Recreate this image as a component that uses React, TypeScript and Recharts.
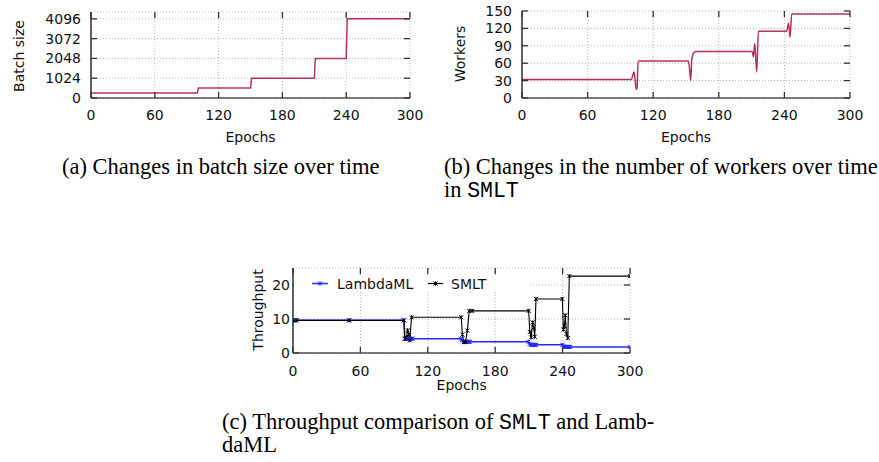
import React from 'react';
import { LineChart, Line, XAxis, YAxis, CartesianGrid, Legend } from 'recharts';

// ---------- data ----------
const epochTicks = [0, 60, 120, 180, 240, 300];

// (a) batch size
const batchEpochs = [0, 100, 101, 150, 151, 210, 211, 240, 241, 300];
const batchSizes = [256, 256, 512, 512, 1024, 1024, 2048, 2048, 4096, 4096];
const batchTicks = [0, 1024, 2048, 3072, 4096];

// (b) workers
const workerEpochs = [0, 100, 101.2, 102.4, 103.2, 104.4, 105.2, 106.2, 152, 153.3, 154.3, 155.2, 156.2, 157.2, 158.5, 210.5, 211.6, 212.9, 213.8, 214.7, 216.2, 242.2, 243.7, 244.5, 245.2, 246.7, 300];
const workerCounts = [32, 32, 38, 45, 36, 15, 17, 64, 64, 50, 30, 64, 74, 78, 80, 80, 71, 94, 68, 45, 115, 115, 129, 118, 105, 145, 145];
const workerTicks = [0, 30, 60, 90, 120, 150];

// (c) throughput
const lambdaEpochs = [0, 2, 50, 98.7, 99.5, 100.5, 101.5, 102.5, 103.5, 104.5, 105.5, 106.5, 149.5, 150.5, 151.5, 152.5, 153.5, 154.5, 155.5, 156.5, 157.5, 209.5, 210.5, 211.5, 212.5, 213.5, 214.5, 215.5, 216.5, 239.8, 240.8, 241.8, 242.8, 243.8, 244.8, 245.8, 246.8, 300];
const lambdaThroughput = [9.6, 9.6, 9.6, 9.6, 4.2, 4.2, 4.1, 4.2, 4.1, 4.2, 4.2, 4.2, 4.2, 3.8, 3.4, 3.3, 3.3, 3.2, 3.3, 3.3, 3.3, 3.3, 2.7, 2.4, 2.4, 2.4, 2.4, 2.4, 2.4, 2.4, 2.0, 1.8, 1.8, 1.8, 1.8, 1.8, 1.8, 1.8];
const smltEpochs = [0, 3, 50, 98.7, 99.6, 101, 102, 103, 104, 105.5, 149.8, 150.8, 152.2, 153.6, 155.2, 156.9, 159.5, 209.8, 210.8, 212, 213.3, 214.2, 215.2, 216.3, 239.8, 240.7, 241.6, 242.4, 243.4, 244.6, 246, 300];
const smltThroughput = [9.6, 9.6, 9.6, 9.6, 4.2, 4.5, 6.7, 5.5, 3.7, 10.5, 10.5, 5.4, 3.2, 3.3, 6.6, 12.4, 12.4, 12.4, 6.2, 4.6, 9.0, 7.5, 4.8, 15.9, 15.9, 6.9, 8.0, 11.1, 5.6, 4.4, 22.6, 22.6];
const throughputTicks = [0, 10, 20];

const seriesNames = ['LambdaML', 'SMLT'];

const zip = (xs: number[], ys: number[]) => xs.map((e, i) => ({ e, v: ys[i] }));
const batchData = zip(batchEpochs, batchSizes);
const workerData = zip(workerEpochs, workerCounts);
const lambdaData = zip(lambdaEpochs, lambdaThroughput);
const smltData = zip(smltEpochs, smltThroughput);

// ---------- styles ----------
const FONT = "'DejaVu Sans', sans-serif";
const SERIF = "'Liberation Serif', 'Times New Roman', serif";
const MONO = "'Liberation Mono', monospace";
const AX = '#000';
const TICK = '#333';
const CRIMSON = '#b3345a';
const BLUE = '#2828ff';
const BLACK = '#000';

function xTick(plotH: number, gap: number) {
  return (p: any) => {
    const { x, y, payload } = p;
    const b = y - gap;
    const t = b - plotH;
    return (
      <g>
        <line x1={x} x2={x} y1={b} y2={b - 6} stroke={TICK} strokeWidth={1.3} />
        <line x1={x} x2={x} y1={t} y2={t + 6} stroke={TICK} strokeWidth={1.3} />
        <text x={x} y={y} dy="0.72em" textAnchor="middle" fontFamily={FONT} fontSize={14} fill="#111">
          {payload.value}
        </text>
      </g>
    );
  };
}

function yTick(plotW: number, gap: number) {
  return (p: any) => {
    const { x, y, payload } = p;
    const l = x + gap;
    const r = l + plotW;
    return (
      <g>
        <line x1={l} x2={l + 6} y1={y} y2={y} stroke={TICK} strokeWidth={1.3} />
        <line x1={r} x2={r - 6} y1={y} y2={y} stroke={TICK} strokeWidth={1.3} />
        <text x={x} y={y} dy="0.36em" textAnchor="end" fontFamily={FONT} fontSize={14} fill="#111">
          {payload.value}
        </text>
      </g>
    );
  };
}

function starDot(color: string) {
  return (p: any) => {
    const { cx, cy, index } = p;
    if (cx == null || cy == null) return <g key={`d${index}`} />;
    const r = 2;
    return (
      <g key={`d${index}`}>
        <line x1={cx - r} x2={cx + r} y1={cy - r} y2={cy + r} stroke={color} strokeWidth={1} />
        <line x1={cx - r} x2={cx + r} y1={cy + r} y2={cy - r} stroke={color} strokeWidth={1} />
        <line x1={cx} x2={cx} y1={cy - r} y2={cy + r} stroke={color} strokeWidth={1} />
      </g>
    );
  };
}

type PanelProps = {
  left: number; top: number; width: number; height: number;
  pl: number; pt: number; pr: number; pb: number;
  yDomain: [number, number]; yTicks: number[];
  xGap: number; yGap: number;
  children?: React.ReactNode;
};

function Panel(props: PanelProps) {
  const { left, top, width, height, pl, pt, pr, pb, yDomain, yTicks, xGap, yGap, children } = props;
  const plotW = pr - pl;
  const plotH = pb - pt;
  const axisLine = { stroke: AX, strokeWidth: 1.2 };
  return (
    <div style={{ position: 'absolute', left, top, width, height }}>
      <LineChart width={width} height={height} margin={{ top: pt, right: width - pr, bottom: 0, left: 0 }}>
        <CartesianGrid stroke="#b4b4b4" strokeDasharray="1 2" />
        <XAxis dataKey="e" type="number" domain={[0, 300]} ticks={epochTicks} interval={0}
          height={height - pb} tickSize={0} tickMargin={xGap} tickLine={false}
          axisLine={axisLine} tick={xTick(plotH, xGap)} allowDataOverflow />
        <XAxis xAxisId="top" orientation="top" dataKey="e" type="number" domain={[0, 300]}
          height={0} tick={false} tickLine={false} axisLine={axisLine} />
        <YAxis type="number" domain={yDomain} ticks={yTicks} interval={0} width={pl}
          tickSize={0} tickMargin={yGap} tickLine={false} axisLine={axisLine}
          tick={yTick(plotW, yGap)} allowDataOverflow />
        <YAxis yAxisId="right" orientation="right" type="number" domain={yDomain}
          width={0} tick={false} tickLine={false} axisLine={axisLine} />
        {children}
      </LineChart>
    </div>
  );
}

function ThroughputLegend() {
  return (
    <svg width={234} height={17} style={{ display: 'block', background: '#fff' }}>
      <line x1={18} x2={34} y1={8.5} y2={8.5} stroke={BLUE} strokeWidth={1.5} />
      {starDot(BLUE)({ cx: 26, cy: 8.5, index: 0 })}
      <text x={43} y={13.5} fontFamily={FONT} fontSize={14} fill="#111">{seriesNames[0]}</text>
      <line x1={134} x2={149} y1={8.5} y2={8.5} stroke={BLACK} strokeWidth={1.2} />
      {starDot(BLACK)({ cx: 141.5, cy: 8.5, index: 1 })}
      <text x={157} y={13.5} fontFamily={FONT} fontSize={14} fill="#111">{seriesNames[1]}</text>
    </svg>
  );
}

export default function App() {
  return (
    <div style={{ position: 'absolute', left: 0, top: 0, width: 879, height: 462, background: '#fff', overflow: 'hidden' }}>
      {/* (a) */}
      <Panel left={0} top={0} width={440} height={150} pl={91} pt={12} pr={410} pb={98}
        yDomain={[0, 4450]} yTicks={batchTicks} xGap={12} yGap={10}>
        <Line data={batchData} dataKey="v" type="linear" stroke={CRIMSON} strokeWidth={1.5}
          dot={false} isAnimationActive={false} />
      </Panel>

      {/* (b) */}
      <Panel left={440} top={0} width={439} height={150} pl={82} pt={11} pr={410} pb={98}
        yDomain={[0, 150]} yTicks={workerTicks} xGap={12} yGap={10}>
        <Line data={workerData} dataKey="v" type="monotone" stroke={CRIMSON} strokeWidth={1.5}
          dot={false} isAnimationActive={false} />
      </Panel>

      {/* (c) */}
      <Panel left={200} top={255} width={450} height={150} pl={93} pt={13} pr={430} pb={98}
        yDomain={[0, 25]} yTicks={throughputTicks} xGap={13} yGap={3}>
        <Line data={lambdaData} dataKey="v" name={seriesNames[0]} type="linear" stroke={BLUE}
          strokeWidth={1.5} dot={starDot(BLUE)} isAnimationActive={false} />
        <Line data={smltData} dataKey="v" name={seriesNames[1]} type="linear" stroke={BLACK}
          strokeWidth={1.1} dot={starDot(BLACK)} isAnimationActive={false} />
        <Legend layout="vertical" align="center" verticalAlign="middle"
          wrapperStyle={{ left: 94, top: 20, width: 234, height: 17 }}
          content={() => <ThroughputLegend />} />
      </Panel>

      {/* axis titles and captions */}
      <svg width={879} height={462} style={{ position: 'absolute', left: 0, top: 0, pointerEvents: 'none' }}>
        <g fontFamily={FONT} fontSize={14} fill="#111">
          <text transform="translate(24,56) rotate(-90)" textAnchor="middle">Batch size</text>
          <text x={250.5} y={142} textAnchor="middle">Epochs</text>
          <text transform="translate(465,54) rotate(-90)" textAnchor="middle">Workers</text>
          <text x={686} y={142} textAnchor="middle">Epochs</text>
          <text transform="translate(263,310) rotate(-90)" textAnchor="middle">Throughput</text>
          <text x={461.7} y={390} textAnchor="middle">Epochs</text>
        </g>
        <g fontFamily={SERIF} fontSize={22.5} fill="#000">
          <text x={62} y={174}>(a) Changes in batch size over time</text>
          <text x={444} y={174}>(b) Changes in the number of workers over time</text>
          <text x={444} y={197.3}>in <tspan fontFamily={MONO} fontSize={21.5}>SMLT</tspan></text>
          <text x={222} y={429}>(c) Throughput comparison of <tspan fontFamily={MONO} fontSize={21.5}>SMLT</tspan> and Lamb-</text>
          <text x={222} y={452.3}>daML</text>
        </g>
      </svg>
    </div>
  );
}
